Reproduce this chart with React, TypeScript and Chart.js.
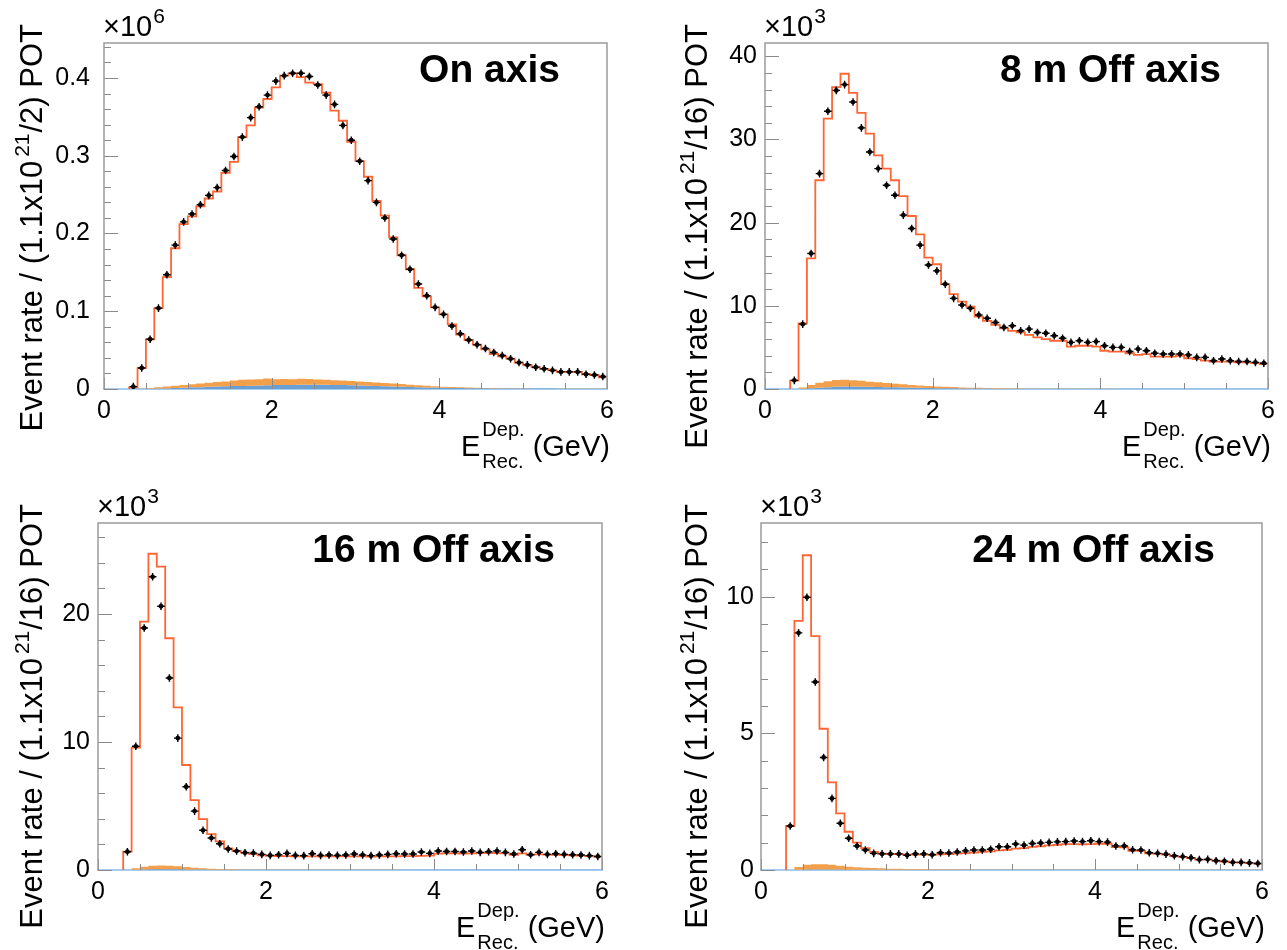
import React, { useEffect, useRef } from 'react';
import { Chart, registerables } from 'chart.js';

Chart.register(...registerables);

// ---------------- DATA ----------------
// Bin edges (GeV) of the E_Rec^Dep histograms: 0.1 GeV bins from 0.3 to 6.0
const BIN_EDGES = [
  0.3, 0.4, 0.5, 0.6, 0.7, 0.8, 0.9, 1.0, 1.1, 1.2,
  1.3, 1.4, 1.5, 1.6, 1.7, 1.8, 1.9, 2.0, 2.1, 2.2,
  2.3, 2.4, 2.5, 2.6, 2.7, 2.8, 2.9, 3.0, 3.1, 3.2,
  3.3, 3.4, 3.5, 3.6, 3.7, 3.8, 3.9, 4.0, 4.1, 4.2,
  4.3, 4.4, 4.5, 4.6, 4.7, 4.8, 4.9, 5.0, 5.1, 5.2,
  5.3, 5.4, 5.5, 5.6, 5.7, 5.8, 5.9, 6.0,
];
const X_TICK_STEP = 2;

// On axis (x10^6)
const ON_AXIS_DATA = [
  0.003, 0.027, 0.064, 0.104, 0.147, 0.185, 0.215, 0.225, 0.237, 0.249,
  0.259, 0.281, 0.299, 0.324, 0.349, 0.363, 0.378, 0.396, 0.403, 0.406,
  0.406, 0.402, 0.391, 0.378, 0.366, 0.339, 0.320, 0.293, 0.268, 0.240,
  0.220, 0.193, 0.172, 0.154, 0.135, 0.120, 0.105, 0.096, 0.081, 0.071,
  0.063, 0.057, 0.052, 0.047, 0.043, 0.039, 0.034, 0.031, 0.028, 0.026,
  0.024, 0.022, 0.022, 0.022, 0.019, 0.018, 0.016,
];
const ON_AXIS_MC = [
  0.002, 0.027, 0.064, 0.104, 0.144, 0.181, 0.212, 0.222, 0.235, 0.245,
  0.254, 0.278, 0.292, 0.324, 0.339, 0.362, 0.373, 0.388, 0.403, 0.406,
  0.401, 0.394, 0.392, 0.381, 0.358, 0.345, 0.318, 0.293, 0.273, 0.242,
  0.223, 0.195, 0.172, 0.154, 0.130, 0.119, 0.105, 0.096, 0.083, 0.070,
  0.063, 0.057, 0.051, 0.045, 0.042, 0.039, 0.034, 0.031, 0.028, 0.026,
  0.024, 0.022, 0.022, 0.022, 0.019, 0.018, 0.015,
];
const ON_AXIS_BKG_BLUE = [
  0, 0, 0.0002, 0.0005, 0.0008, 0.0012, 0.0016, 0.0021, 0.0024, 0.0028,
  0.0031, 0.0034, 0.0038, 0.004, 0.0043, 0.0045, 0.0048, 0.005, 0.0052, 0.0053,
  0.0055, 0.0056, 0.0055, 0.0054, 0.0052, 0.005, 0.0047, 0.0044, 0.0041, 0.0038,
  0.0035, 0.0032, 0.0029, 0.0026, 0.0023, 0.002, 0.0018, 0.0016, 0.0014, 0.0012,
  0.0011, 0.001, 0.0009, 0.0008, 0.0007, 0.0007, 0.0006, 0.0006, 0.0005, 0.0005,
  0.0005, 0.0004, 0.0004, 0.0004, 0.0004, 0.0003, 0.0003,
];
const ON_AXIS_BKG_ORANGE = [
  0, 0.0003, 0.001, 0.0018, 0.0025, 0.003, 0.0035, 0.004, 0.0046, 0.0052,
  0.0058, 0.0064, 0.007, 0.0078, 0.008, 0.0082, 0.0086, 0.0075, 0.0078, 0.0074,
  0.0076, 0.0072, 0.0068, 0.0066, 0.0062, 0.006, 0.0056, 0.0052, 0.0048, 0.0046,
  0.0042, 0.0038, 0.0035, 0.003, 0.0026, 0.0022, 0.0018, 0.0014, 0.0011, 0.0009,
  0.0007, 0.0006, 0.0005, 0.0004, 0.0004, 0.0004, 0.0003, 0.0003, 0.0003, 0.0003,
  0.0002, 0.0002, 0.0002, 0.0002, 0.0002, 0.0002, 0.0002,
];

// 8 m off axis (x10^3)
const OFF8_DATA = [
  1.04, 7.8, 16.3, 25.9, 33.4, 35.9, 36.6, 34.5, 31.4, 28.5,
  26.5, 24.5, 23.3, 20.9, 19.3, 17.3, 14.9, 14.2, 12.6, 10.9,
  10.1, 9.7, 8.9, 8.5, 8.0, 7.4, 7.6, 7.0, 7.2, 6.8,
  6.7, 6.4, 6.1, 5.6, 5.8, 5.6, 5.7, 5.2, 5.0, 5.0,
  4.5, 4.8, 4.6, 4.3, 4.2, 4.2, 4.2, 4.1, 3.8, 3.8,
  3.4, 3.6, 3.4, 3.3, 3.3, 3.2, 3.1,
];
const OFF8_MC = [
  1.0, 7.9, 15.7, 25.1, 32.5, 36.3, 37.9, 35.6, 33.2, 30.7,
  28.1, 26.5, 25.1, 23.2, 20.8, 18.6, 15.8, 15.0, 12.6, 11.4,
  10.5, 9.9, 8.7, 8.2, 7.7, 7.3, 7.0, 6.8, 6.5, 6.2,
  6.0, 5.8, 5.8, 5.1, 5.2, 5.2, 5.1, 4.6, 4.5, 4.5,
  4.3, 4.1, 4.2, 3.9, 3.9, 3.9, 4.0, 3.7, 3.6, 3.4,
  3.3, 3.3, 3.3, 3.2, 3.2, 3.1, 3.0,
];
const OFF8_BKG_BLUE = [
  0, 0.02, 0.08, 0.15, 0.22, 0.27, 0.3, 0.3, 0.28, 0.26,
  0.24, 0.22, 0.2, 0.18, 0.16, 0.14, 0.12, 0.1, 0.09, 0.08,
  0.07, 0.06, 0.05, 0.05, 0.04, 0.04, 0.04, 0.03, 0.03, 0.03,
  0.03, 0.03, 0.03, 0.03, 0.03, 0.02, 0.02, 0.02, 0.02, 0.02,
  0.02, 0.02, 0.02, 0.02, 0.02, 0.02, 0.02, 0.02, 0.02, 0.02,
  0.02, 0.02, 0.02, 0.02, 0.02, 0.02, 0.02,
];
const OFF8_BKG_ORANGE = [
  0, 0.15, 0.4, 0.6, 0.7, 0.8, 0.82, 0.76, 0.7, 0.62,
  0.56, 0.5, 0.42, 0.38, 0.32, 0.28, 0.24, 0.2, 0.17, 0.15,
  0.12, 0.1, 0.09, 0.08, 0.07, 0.06, 0.05, 0.05, 0.04, 0.04,
  0.04, 0.04, 0.03, 0.03, 0.03, 0.03, 0.03, 0.03, 0.03, 0.02,
  0.02, 0.02, 0.02, 0.02, 0.02, 0.02, 0.02, 0.02, 0.02, 0.02,
  0.02, 0.02, 0.02, 0.02, 0.02, 0.02, 0.02,
];

// 16 m off axis (x10^3)
const OFF16_DATA = [
  1.43, 9.66, 18.9, 22.9, 20.6, 15.0, 10.3, 6.5, 4.6, 3.1,
  2.5, 2.05, 1.64, 1.48, 1.35, 1.32, 1.22, 1.14, 1.19, 1.3,
  1.14, 1.12, 1.27, 1.14, 1.17, 1.14, 1.17, 1.25, 1.17, 1.12,
  1.17, 1.22, 1.27, 1.25, 1.25, 1.4, 1.3, 1.48, 1.45, 1.45,
  1.4, 1.48, 1.38, 1.43, 1.48, 1.38, 1.25, 1.58, 1.19, 1.38,
  1.22, 1.27, 1.22, 1.19, 1.17, 1.12, 1.06,
];
const OFF16_MC = [
  1.43, 9.56, 19.4, 24.7, 23.7, 18.1, 12.7, 8.2, 5.45, 3.97,
  2.8, 2.23, 1.69, 1.5, 1.35, 1.25, 1.15, 1.1, 1.08, 1.08,
  1.06, 1.06, 1.06, 1.06, 1.06, 1.06, 1.06, 1.06, 1.06, 1.04,
  1.06, 1.06, 1.06, 1.08, 1.08, 1.1, 1.12, 1.28, 1.3, 1.3,
  1.28, 1.3, 1.32, 1.34, 1.32, 1.3, 1.18, 1.3, 1.2, 1.22,
  1.2, 1.18, 1.16, 1.14, 1.12, 1.08, 1.04,
];
const OFF16_BKG_BLUE = [
  0, 0.01, 0.03, 0.05, 0.06, 0.06, 0.05, 0.04, 0.03, 0.03,
  0.02, 0.02, 0.02, 0.02, 0.01, 0.01, 0.01, 0.01, 0.01, 0.01,
  0.01, 0.01, 0.01, 0.01, 0.01, 0.01, 0.01, 0.01, 0.01, 0.01,
  0.01, 0.01, 0.01, 0.01, 0.01, 0.01, 0.01, 0.01, 0.01, 0.01,
  0.01, 0.01, 0.01, 0.01, 0.01, 0.01, 0.01, 0.01, 0.01, 0.01,
  0.01, 0.01, 0.01, 0.01, 0.01, 0.01, 0.01,
];
const OFF16_BKG_ORANGE = [
  0, 0.12, 0.22, 0.28, 0.3, 0.28, 0.24, 0.19, 0.15, 0.11,
  0.08, 0.06, 0.05, 0.04, 0.03, 0.03, 0.03, 0.02, 0.02, 0.02,
  0.02, 0.02, 0.02, 0.02, 0.02, 0.02, 0.02, 0.02, 0.02, 0.02,
  0.02, 0.02, 0.02, 0.01, 0.01, 0.01, 0.01, 0.01, 0.01, 0.01,
  0.01, 0.01, 0.01, 0.01, 0.01, 0.01, 0.01, 0.01, 0.01, 0.01,
  0.01, 0.01, 0.01, 0.01, 0.01, 0.01, 0.01,
];

// 24 m off axis (x10^3)
const OFF24_DATA = [
  1.61, 8.68, 9.98, 6.88, 4.12, 2.62, 1.71, 1.16, 0.88, 0.73,
  0.61, 0.59, 0.59, 0.59, 0.54, 0.59, 0.59, 0.56, 0.63, 0.62,
  0.66, 0.70, 0.73, 0.73, 0.76, 0.85, 0.85, 0.95, 0.91, 0.97,
  0.99, 1.01, 1.03, 1.04, 1.06, 1.04, 1.07, 1.04, 1.02, 0.88,
  0.88, 0.74, 0.73, 0.63, 0.61, 0.58, 0.52, 0.49, 0.45, 0.38,
  0.39, 0.34, 0.32, 0.28, 0.28, 0.26, 0.24,
];
const OFF24_MC = [
  1.61, 9.12, 11.52, 8.56, 5.17, 3.21, 2.07, 1.40, 1.0, 0.8,
  0.66, 0.6, 0.58, 0.58, 0.56, 0.56, 0.56, 0.56, 0.57, 0.58,
  0.6, 0.62, 0.64, 0.66, 0.68, 0.72, 0.74, 0.78, 0.8, 0.85,
  0.87, 0.9, 0.92, 0.95, 0.95, 0.94, 0.95, 0.96, 0.96, 0.84,
  0.83, 0.70, 0.70, 0.61, 0.59, 0.56, 0.51, 0.48, 0.44, 0.38,
  0.38, 0.34, 0.31, 0.28, 0.27, 0.25, 0.23,
];
const OFF24_BKG_BLUE = [
  0, 0.01, 0.02, 0.02, 0.02, 0.02, 0.02, 0.01, 0.01, 0.01,
  0.01, 0.01, 0.01, 0.01, 0.01, 0.01, 0.01, 0.01, 0.01, 0.01,
  0.01, 0.01, 0.01, 0.01, 0.01, 0.01, 0.01, 0.01, 0.01, 0.01,
  0.01, 0.01, 0.01, 0.01, 0.01, 0.01, 0.01, 0.01, 0.01, 0.01,
  0.01, 0.01, 0.01, 0.01, 0.01, 0.01, 0.01, 0.01, 0.01, 0.01,
  0.01, 0.01, 0.01, 0.01, 0.01, 0.01, 0.01,
];
const OFF24_BKG_ORANGE = [
  0, 0.1, 0.17, 0.19, 0.19, 0.17, 0.14, 0.11, 0.09, 0.07,
  0.06, 0.05, 0.04, 0.04, 0.03, 0.03, 0.03, 0.02, 0.02, 0.02,
  0.02, 0.02, 0.01, 0.01, 0.01, 0.01, 0.01, 0.01, 0.01, 0.01,
  0.01, 0.01, 0.01, 0.01, 0.01, 0.01, 0.01, 0.01, 0.01, 0.01,
  0.01, 0.01, 0.01, 0.01, 0.01, 0.01, 0.01, 0.01, 0.01, 0.01,
  0.01, 0.01, 0.01, 0.01, 0.01, 0.01, 0.01,
];

// ---------------- STYLE / LAYOUT ----------------
const FONT = '"Liberation Sans", Arial, Helvetica, sans-serif';
const COLORS = {
  mc: '#ff6633',
  bkgOrange: '#f3a04d',
  bkgBlue: '#6a9fd4',
  zeroLine: '#a6cdf0',
  frame: '#9c9c9c',
  tick: '#8a8a8a',
  data: '#000000',
};

type Box = { x: number; y: number; w: number; h: number };
type Frame = { l: number; t: number; r: number; b: number };
type PanelDef = {
  title: string;
  potDen: string;
  multExp: string;
  data: number[];
  mc: number[];
  bkgBlue: number[];
  bkgOrange: number[];
  yMax: number;
  yMajor: number;
  yMinor: number;
  yDecimals: number;
  canvas: Box;
  frame: Frame;
  yTitleX: number;
  yLabelPad: number;
};

const PANELS: PanelDef[] = [
  {
    title: 'On axis', potDen: '2', multExp: '6',
    data: ON_AXIS_DATA, mc: ON_AXIS_MC, bkgBlue: ON_AXIS_BKG_BLUE, bkgOrange: ON_AXIS_BKG_ORANGE,
    yMax: 0.445, yMajor: 0.1, yMinor: 0.02, yDecimals: 1,
    canvas: { x: 0, y: 0, w: 643, h: 475 }, frame: { l: 104, t: 43, r: 607, b: 389 },
    yTitleX: 42, yLabelPad: 14,
  },
  {
    title: '8 m Off axis', potDen: '16', multExp: '3',
    data: OFF8_DATA, mc: OFF8_MC, bkgBlue: OFF8_BKG_BLUE, bkgOrange: OFF8_BKG_ORANGE,
    yMax: 41.6, yMajor: 10, yMinor: 2, yDecimals: 0,
    canvas: { x: 643, y: 0, w: 644, h: 475 }, frame: { l: 765, t: 43, r: 1268, b: 389 },
    yTitleX: 707, yLabelPad: 8,
  },
  {
    title: '16 m Off axis', potDen: '16', multExp: '3',
    data: OFF16_DATA, mc: OFF16_MC, bkgBlue: OFF16_BKG_BLUE, bkgOrange: OFF16_BKG_ORANGE,
    yMax: 27.1, yMajor: 10, yMinor: 2, yDecimals: 0,
    canvas: { x: 0, y: 475, w: 643, h: 475 }, frame: { l: 98, t: 523, r: 602, b: 870 },
    yTitleX: 42, yLabelPad: 8,
  },
  {
    title: '24 m Off axis', potDen: '16', multExp: '3',
    data: OFF24_DATA, mc: OFF24_MC, bkgBlue: OFF24_BKG_BLUE, bkgOrange: OFF24_BKG_ORANGE,
    yMax: 12.7, yMajor: 5, yMinor: 1, yDecimals: 0,
    canvas: { x: 643, y: 475, w: 644, h: 475 }, frame: { l: 761, t: 523, r: 1262, b: 870 },
    yTitleX: 707, yLabelPad: 7,
  },
];

// ---------------- HELPERS ----------------
function histogramPoints(values: number[]) {
  const n = Math.min(values.length, BIN_EDGES.length - 1);
  const pts = [{ x: BIN_EDGES[0], y: 0 }];
  for (let i = 0; i < n; i++) pts.push({ x: BIN_EDGES[i], y: values[i] });
  pts.push({ x: BIN_EDGES[n], y: values[n - 1] });
  return pts;
}

function centerPoints(values: number[]) {
  const n = Math.min(values.length, BIN_EDGES.length - 1);
  const pts = [];
  for (let i = 0; i < n; i++) pts.push({ x: (BIN_EDGES[i] + BIN_EDGES[i + 1]) / 2, y: values[i] });
  return pts;
}

type Seg = { t?: string; size: number; dy?: number; gap?: number; bold?: boolean; sup?: string; sub?: string; supDy?: number; subDy?: number };

function fontOf(size: number, bold?: boolean) {
  return `${bold ? 'bold ' : ''}${size}px ${FONT}`;
}
function segWidth(ctx: CanvasRenderingContext2D, s: Seg) {
  ctx.font = fontOf(s.size, s.bold);
  if (s.sup !== undefined || s.sub !== undefined) {
    return Math.max(ctx.measureText(s.sup || '').width, ctx.measureText(s.sub || '').width);
  }
  return ctx.measureText(s.t || '').width;
}
function drawSegs(ctx: CanvasRenderingContext2D, segs: Seg[], x: number, y: number, align: 'left' | 'right') {
  let total = 0;
  for (const s of segs) total += segWidth(ctx, s) + (s.gap || 0);
  let cx = align === 'right' ? x - total : x;
  ctx.textAlign = 'left';
  ctx.textBaseline = 'alphabetic';
  for (const s of segs) {
    cx += s.gap || 0;
    const w = segWidth(ctx, s);
    ctx.font = fontOf(s.size, s.bold);
    if (s.sup !== undefined || s.sub !== undefined) {
      if (s.sup) ctx.fillText(s.sup, cx, y + (s.supDy || 0));
      if (s.sub) ctx.fillText(s.sub, cx, y + (s.subDy || 0));
    } else {
      ctx.fillText(s.t || '', cx, y + (s.dy || 0));
    }
    cx += w;
  }
}

function makeRootPlugin(p: PanelDef) {
  const ox = p.canvas.x;
  const oy = p.canvas.y;
  const L = (x: number) => x - ox;
  const T = (y: number) => y - oy;
  return {
    id: 'rootStyle',
    afterDatasetsDraw(chart: any) {
      const { ctx, chartArea: a, scales } = chart;
      const xs = scales.x;
      const ys = scales.y;
      ctx.save();
      // inner tick marks
      ctx.strokeStyle = COLORS.tick;
      ctx.lineWidth = 1;
      ctx.beginPath();
      const xMinor = 0.5;
      const xRatio = Math.round(X_TICK_STEP / xMinor);
      for (let k = 0; k * xMinor <= xs.max + 1e-9; k++) {
        const px = Math.round(xs.getPixelForValue(k * xMinor)) + 0.5;
        const len = k % xRatio === 0 ? 11 : 6;
        ctx.moveTo(px, a.bottom);
        ctx.lineTo(px, a.bottom - len);
      }
      const yRatio = Math.round(p.yMajor / p.yMinor);
      for (let k = 0; k * p.yMinor <= ys.max + 1e-9; k++) {
        const py = Math.round(ys.getPixelForValue(k * p.yMinor)) + 0.5;
        const len = k % yRatio === 0 ? 14 : 7;
        ctx.moveTo(a.left, py);
        ctx.lineTo(a.left + len, py);
      }
      ctx.stroke();
      // frame (left, top, right); bottom is the x-axis line
      ctx.strokeStyle = COLORS.frame;
      ctx.lineWidth = 1.5;
      ctx.beginPath();
      ctx.moveTo(a.left, a.bottom);
      ctx.lineTo(a.left, a.top);
      ctx.lineTo(a.right, a.top);
      ctx.lineTo(a.right, a.bottom);
      ctx.stroke();
      ctx.restore();
    },
    afterDraw(chart: any) {
      const ctx: CanvasRenderingContext2D = chart.ctx;
      const f = p.frame;
      ctx.save();
      ctx.fillStyle = '#000';
      // panel label
      ctx.font = fontOf(39, true);
      ctx.textAlign = 'right';
      ctx.textBaseline = 'alphabetic';
      ctx.fillText(p.title, L(f.r - 47), T(f.t + 39));
      // axis multiplier
      drawSegs(ctx, [
        { t: '\u00d710', size: 29 },
        { t: p.multExp, size: 21, dy: -13, gap: 1 },
      ], L(f.l - 1), T(f.t - 7), 'left');
      // x axis title
      drawSegs(ctx, [
        { t: 'E', size: 29 },
        { size: 20, sup: 'Dep.', sub: 'Rec.', supDy: -20, subDy: 12, gap: 2 },
        { t: ' (GeV)', size: 29 },
      ], L(f.r + 3), T(f.b + 67), 'right');
      // y axis title (rotated)
      ctx.translate(L(p.yTitleX), T(f.t - 19));
      ctx.rotate(-Math.PI / 2);
      drawSegs(ctx, [
        { t: 'Event rate / (1.1x10', size: 31 },
        { t: '21', size: 21, dy: -13, gap: 4 },
        { t: '/' + p.potDen + ') POT', size: 31, gap: 1 },
      ], 0, 0, 'right');
      ctx.restore();
    },
  };
}

function PanelChart({ p }: { p: PanelDef }) {
  const ref = useRef<HTMLCanvasElement | null>(null);
  useEffect(() => {
    const canvas = ref.current;
    if (!canvas) return;
    const { x: cx, y: cy, w: cw, h: ch } = p.canvas;
    const f = p.frame;
    const cumulative = p.bkgBlue.map((b, i) => b + (p.bkgOrange[i] || 0));
    const chart = new Chart(canvas, {
      type: 'line',
      data: {
        datasets: [
          {
            label: 'Data error bars',
            data: centerPoints(p.data),
            showLine: false,
            pointStyle: 'cross',
            pointRadius: 3.8,
            pointBorderWidth: 1.4,
            pointBorderColor: COLORS.data,
            borderColor: COLORS.data,
            backgroundColor: COLORS.data,
          },
          {
            label: 'Data',
            data: centerPoints(p.data),
            showLine: false,
            pointStyle: 'circle',
            pointRadius: 2.4,
            pointBorderWidth: 0,
            pointBackgroundColor: COLORS.data,
            borderColor: COLORS.data,
          },
          {
            label: 'Prediction',
            data: histogramPoints(p.mc),
            stepped: 'before',
            borderColor: COLORS.mc,
            borderWidth: 1.8,
            pointRadius: 0,
            fill: false,
          },
          {
            label: 'Background (orange)',
            data: histogramPoints(cumulative),
            stepped: 'before',
            borderColor: 'transparent',
            borderWidth: 0,
            pointRadius: 0,
            backgroundColor: COLORS.bkgOrange,
            fill: 4,
          },
          {
            label: 'Background (blue)',
            data: histogramPoints(p.bkgBlue),
            stepped: 'before',
            borderColor: 'transparent',
            borderWidth: 0,
            pointRadius: 0,
            backgroundColor: COLORS.bkgBlue,
            fill: 'origin',
          },
        ],
      } as any,
      options: {
        responsive: false,
        animation: false,
        devicePixelRatio: 1,
        events: [],
        layout: { padding: { left: 0, top: f.t - cy, right: cx + cw - f.r, bottom: 0 } },
        plugins: { legend: { display: false }, tooltip: { enabled: false }, title: { display: false } },
        scales: {
          x: {
            type: 'linear',
            position: 'bottom',
            min: 0,
            max: 6,
            grid: { display: false, drawTicks: false },
            border: { display: true, color: COLORS.zeroLine, width: 2 },
            ticks: {
              stepSize: X_TICK_STEP,
              autoSkip: false,
              maxRotation: 0,
              padding: 7,
              color: '#000',
              font: { family: FONT, size: 25 },
              callback: (v: any) => String(v),
            },
            afterFit: (s: any) => { s.height = cy + ch - f.b; },
          },
          y: {
            type: 'linear',
            position: 'left',
            min: 0,
            max: p.yMax,
            grid: { display: false, drawTicks: false },
            border: { display: false },
            ticks: {
              stepSize: p.yMajor,
              includeBounds: false,
              autoSkip: false,
              padding: p.yLabelPad,
              color: '#000',
              font: { family: FONT, size: 25 },
              callback: (v: any) => (Math.abs(v) < 1e-9 ? '0' : Number(v).toFixed(p.yDecimals)),
            },
            afterFit: (s: any) => { s.width = f.l - cx; },
          },
        },
      } as any,
      plugins: [makeRootPlugin(p)],
    });
    return () => chart.destroy();
  }, [p]);
  return (
    <canvas
      ref={ref}
      width={p.canvas.w}
      height={p.canvas.h}
      style={{ position: 'absolute', left: p.canvas.x, top: p.canvas.y, width: p.canvas.w, height: p.canvas.h }}
    />
  );
}

export default function App() {
  return (
    <div style={{ position: 'absolute', left: 0, top: 0, width: 1287, height: 950, background: '#ffffff' }}>
      {PANELS.map((p) => (
        <PanelChart key={p.title} p={p} />
      ))}
    </div>
  );
}
